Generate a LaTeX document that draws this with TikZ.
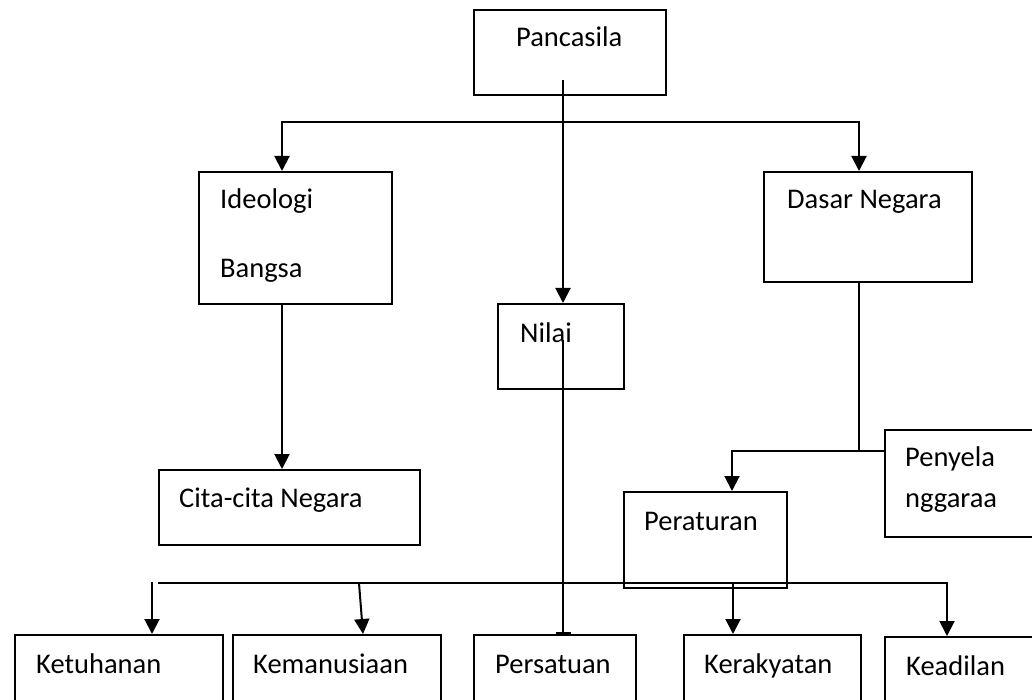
\documentclass[tikz,border=0pt]{standalone}
\usepackage{fontspec}
\setmainfont{Carlito}
\usetikzlibrary{arrows.meta}
\tikzstyle{box}=[draw=black,line width=1.8pt,inner sep=0pt,anchor=north west]
\tikzstyle{txt}=[inner sep=0pt,anchor=base west,font=\fontsize{28.5}{34}\selectfont]
\tikzstyle{conn}=[line width=2pt]
\tikzstyle{arr}=[line width=2pt,-{Triangle[width=15pt,length=15pt]}]

\begin{document}
\begin{tikzpicture}[x=1pt,y=-1pt]
	\useasboundingbox (0,0) rectangle (1032,700);
	\clip (0,0) rectangle (1032,700);
	% boxes
	\node[box,minimum width=192pt,minimum height=85pt] (panc) at (473,9) {};
	\node[box,minimum width=193pt,minimum height=132pt] (ideo) at (198,171) {};
	\node[box,minimum width=208pt,minimum height=110pt] (dasar) at (763,171) {};
	\node[box,minimum width=126pt,minimum height=85pt] (nilai) at (497,303) {};
	\node[box,minimum width=261pt,minimum height=75pt] (cita) at (158,469) {};
	\node[box,minimum width=160pt,minimum height=107pt] (pen) at (884,429) {};
	\node[box,minimum width=163pt,minimum height=96pt] (perat) at (623,491) {};
	\node[box,minimum width=208pt,minimum height=100pt] (ketu) at (14,634) {};
	\node[box,minimum width=208pt,minimum height=100pt] (kema) at (232,634) {};
	\node[box,minimum width=162pt,minimum height=100pt] (pers) at (473,634) {};
	\node[box,minimum width=177pt,minimum height=100pt] (kera) at (683,634) {};
	\node[box,minimum width=160pt,minimum height=100pt] (keadi) at (884,636) {};
	% texts
	\node[txt] (pancT) at (516,47) {Pancasila};
	\node[txt] (ideoT) at (220,209) {Ideologi};
	\node[txt] (ideoT2) at (220,277) {Bangsa};
	\node[txt] (dasarT) at (787,209) {Dasar Negara};
	\node[txt] (nilaiT) at (520,342) {Nilai};
	\node[txt] (citaT) at (179,507) {Cita-cita Negara};
	\node[txt] (penT) at (905,466) {Penyela};
	\node[txt] (penT2) at (905,507) {nggaraa};
	\node[txt] (peratT) at (644,530) {Peraturan};
	\node[txt] (ketuT) at (36,673) {Ketuhanan};
	\node[txt] (kemaT) at (253,673) {Kemanusiaan};
	\node[txt] (persT) at (495,673) {Persatuan};
	\node[txt] (keraT) at (704,673) {Kerakyatan};
	\node[txt] (keadiT) at (906,675) {Keadilan};
	% connectors
	\coordinate (pstem) at ([xshift=90pt,yshift=-71pt]panc.north west);
	\coordinate (split) at ([xshift=90pt,yshift=-113pt]panc.north west);
	\draw[arr] (pstem) -- (pstem |- nilai.north);
	\draw[arr] (split) -| ([xshift=84pt]ideo.north west);
	\draw[arr] (split) -| ([xshift=96pt]dasar.north west);
	\draw[arr] ([xshift=84pt]ideo.south west) -- ([xshift=124pt]cita.north west);
	\coordinate (dj) at ([yshift=-22pt]pen.north west);
	\draw[conn] ([xshift=96pt]dasar.south west) |- (dj);
	\draw[arr] (dj) -| ([xshift=109pt]perat.north west);
	\draw[line width=2pt,-{Bar[width=15pt]}] ([xshift=66pt,yshift=-37pt]nilai.north west) -- (pstem |- pers.north);
	\coordinate (bl) at ([xshift=144pt,yshift=51pt]ketu.north west);
	\draw[arr] (bl) -| ([xshift=63pt]keadi.north west);
	\draw[arr] ([xshift=138pt,yshift=52pt]ketu.north west) -- ([xshift=138pt]ketu.north west);
	\draw[arr] ([xshift=127pt,yshift=51pt]kema.north west) -- ([xshift=131pt]kema.north west);
	\draw[arr] ([xshift=50pt,yshift=51pt]kera.north west) -- ([xshift=50pt]kera.north west);
\end{tikzpicture}
\end{document}
